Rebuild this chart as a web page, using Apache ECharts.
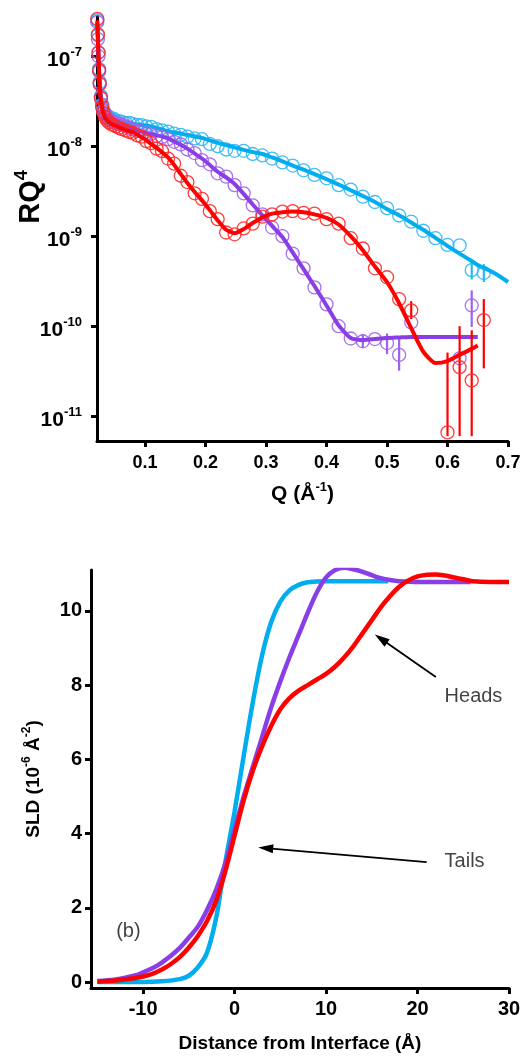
<!DOCTYPE html>
<html><head><meta charset="utf-8">
<script src="https://cdn.jsdelivr.net/npm/echarts@6/dist/echarts.min.js"></script>
<style>html,body{margin:0;padding:0;background:#fff}#c{width:523px;height:1058px}</style>
</head><body><div id="c"></div>
<script>
// ---------- Panel (a): reflectivity RQ^4 vs Q ----------
const qData = [0.021,0.022,0.023,0.024,0.025,0.027,0.029,0.031,0.034,0.037,0.040,0.044,0.048,0.052,0.057,0.062,0.068,0.074,0.080,0.087,0.094,0.102,0.110,0.119,0.128,0.138,0.148,0.159,0.170,0.182,0.194,0.207,0.220,0.234,0.248,0.263,0.278,0.294,0.310,0.327,0.344,0.362,0.380,0.400,0.420,0.440,0.460,0.480,0.500,0.520,0.540,0.560,0.580,0.600,0.620,0.640,0.660];
const blueData = [2.5e-7,1.7e-7,1.1e-7,7.2e-8,5.2e-8,3.6e-8,2.9e-8,2.5e-8,2.3e-8,2.2e-8,2.12e-8,2.0e-8,2.02e-8,1.93e-8,1.9e-8,1.86e-8,1.8e-8,1.82e-8,1.76e-8,1.73e-8,1.72e-8,1.66e-8,1.64e-8,1.55e-8,1.5e-8,1.45e-8,1.38e-8,1.34e-8,1.28e-8,1.22e-8,1.2e-8,1.06e-8,1.0e-8,9.2e-9,8.9e-9,8.9e-9,8.2e-9,7.9e-9,7.3e-9,6.6e-9,6.1e-9,5.4e-9,4.8e-9,4.4e-9,3.7e-9,3.3e-9,2.75e-9,2.4e-9,2.05e-9,1.7e-9,1.45e-9,1.15e-9,9.5e-10,8.0e-10,7.9e-10,4.2e-10,3.9e-10];
const purpleData = [2.4e-7,1.55e-7,1.0e-7,6.8e-8,5.0e-8,3.5e-8,2.85e-8,2.45e-8,2.25e-8,2.1e-8,2.0e-8,1.93e-8,1.85e-8,1.84e-8,1.76e-8,1.73e-8,1.66e-8,1.62e-8,1.55e-8,1.48e-8,1.46e-8,1.38e-8,1.37e-8,1.3e-8,1.26e-8,1.2e-8,1.12e-8,1.05e-8,9.2e-9,8.4e-9,7.0e-9,6.3e-9,5.0e-9,4.6e-9,3.7e-9,3.0e-9,2.2e-9,1.75e-9,1.25e-9,1.0e-9,6.4e-10,4.4e-10,2.7e-10,1.75e-10,1.0e-10,7.3e-11,6.8e-11,7.2e-11,6.5e-11,4.8e-11,1.1e-10,null,null,null,4.4e-11,1.7e-10,null];
const redData = [2.6e-7,1.75e-7,1.1e-7,7.0e-8,4.9e-8,3.4e-8,2.7e-8,2.35e-8,2.1e-8,1.95e-8,1.85e-8,1.76e-8,1.72e-8,1.66e-8,1.6e-8,1.55e-8,1.5e-8,1.44e-8,1.41e-8,1.32e-8,1.28e-8,1.14e-8,1.08e-8,9.4e-9,8.8e-9,7.3e-9,6.4e-9,4.7e-9,4.0e-9,3.0e-9,2.6e-9,1.9e-9,1.55e-9,1.1e-9,1.05e-9,1.22e-9,1.38e-9,1.65e-9,1.75e-9,1.88e-9,1.9e-9,1.82e-9,1.78e-9,1.55e-9,1.38e-9,9.5e-10,7.3e-10,4.4e-10,3.5e-10,2.0e-10,1.5e-10,null,null,6.6e-12,3.5e-11,2.5e-11,1.17e-10];

const qFit = [0.021,0.022,0.023,0.024,0.025,0.027,0.029,0.031,0.034,0.037,0.040,0.044,0.048,0.052,0.057,0.062,0.068,0.074,0.080,0.087,0.094,0.102,0.110,0.119,0.128,0.138,0.148,0.159,0.170,0.182,0.194,0.207,0.220,0.234,0.248,0.263,0.278,0.294,0.310,0.327,0.344,0.362,0.380,0.400,0.420,0.440,0.460,0.480,0.500,0.520,0.540,0.560,0.580,0.600,0.620,0.640,0.650,0.680,0.700];
const blueFit = [2.4e-7,1.6e-7,1.0e-7,6.8e-8,5.0e-8,3.5e-8,2.9e-8,2.55e-8,2.3e-8,2.2e-8,2.1e-8,2.05e-8,2.0e-8,1.95e-8,1.9e-8,1.87e-8,1.84e-8,1.8e-8,1.78e-8,1.75e-8,1.72e-8,1.7e-8,1.66e-8,1.6e-8,1.54e-8,1.47e-8,1.42e-8,1.38e-8,1.33e-8,1.28e-8,1.24e-8,1.16e-8,1.09e-8,1.03e-8,9.7e-9,9.1e-9,8.6e-9,8.2e-9,7.5e-9,6.8e-9,6.1e-9,5.5e-9,4.9e-9,4.3e-9,3.75e-9,3.24e-9,2.8e-9,2.4e-9,2.0e-9,1.71e-9,1.42e-9,1.18e-9,9.6e-10,7.8e-10,6.4e-10,5.3e-10,4.8e-10,3.8e-10,3.1e-10];
const purpleFit = [2.3e-7,1.5e-7,9.5e-8,6.5e-8,4.8e-8,3.4e-8,2.8e-8,2.45e-8,2.2e-8,2.1e-8,2.0e-8,1.95e-8,1.9e-8,1.85e-8,1.8e-8,1.74e-8,1.68e-8,1.62e-8,1.56e-8,1.5e-8,1.45e-8,1.4e-8,1.36e-8,1.32e-8,1.28e-8,1.22e-8,1.13e-8,1.04e-8,9.4e-9,8.3e-9,7.3e-9,6.2e-9,5.2e-9,4.5e-9,3.8e-9,2.95e-9,2.25e-9,1.7e-9,1.3e-9,9.8e-10,6.6e-10,4.3e-10,2.8e-10,1.7e-10,1.02e-10,7.4e-11,7.0e-11,7.2e-11,7.4e-11,7.5e-11,7.6e-11,7.6e-11,7.6e-11,7.6e-11,7.6e-11,7.6e-11,7.6e-11,null,null];
const redFit = [2.5e-7,1.6e-7,1.0e-7,6.5e-8,4.6e-8,3.2e-8,2.6e-8,2.3e-8,2.05e-8,1.95e-8,1.85e-8,1.78e-8,1.72e-8,1.68e-8,1.62e-8,1.57e-8,1.52e-8,1.47e-8,1.43e-8,1.35e-8,1.26e-8,1.16e-8,1.06e-8,9.6e-9,8.6e-9,7.5e-9,6.2e-9,4.9e-9,3.9e-9,3.1e-9,2.5e-9,1.95e-9,1.5e-9,1.18e-9,1.08e-9,1.2e-9,1.4e-9,1.62e-9,1.78e-9,1.85e-9,1.88e-9,1.85e-9,1.75e-9,1.6e-9,1.35e-9,1.0e-9,7.0e-10,4.6e-10,3.1e-10,1.8e-10,9.5e-11,5.2e-11,3.9e-11,4.1e-11,4.8e-11,5.6e-11,6.1e-11,null,null];

const blueErrQ = [0.64,0.66], blueErrLo = [3.3e-10,3.1e-10], blueErrHi = [5.3e-10,4.9e-10];
const purpleErrQ = [0.46,0.50,0.52,0.64], purpleErrLo = [5.8e-11,4.9e-11,3.2e-11,9.8e-11], purpleErrHi = [8.2e-11,8.3e-11,7.2e-11,2.5e-10];
const redErrQ = [0.54,0.60,0.62,0.64,0.66], redErrLo = [1.2e-10,6e-12,6e-12,6e-12,3.4e-11], redErrHi = [1.9e-10,5.1e-11,1.0e-10,9e-11,2.0e-10];

const qTicks = [0.1,0.2,0.3,0.4,0.5,0.6,0.7];
const rTicks = [1e-11,1e-10,1e-9,1e-8,1e-7];

// ---------- Panel (b): SLD profiles ----------
const zBlue = [-15,-12,-10,-8,-6,-5,-4,-3,-2,-1.5,-1,0,1,2,3,4,5,6,7,8,10,14,16.8];
const sldBlue = [0,0,0,0.02,0.08,0.17,0.4,0.8,1.75,2.5,3.25,4.6,6.1,7.55,8.8,9.7,10.25,10.55,10.7,10.77,10.8,10.8,10.8];
const zPurple = [-15,-13,-11,-10,-9,-8,-7,-6,-5,-4,-3,-2,-1,0,1,2,3,4,5,6,7,8,9,10,11,12,13,14,15,16,17,18,20,25.8];
const sldPurple = [0.03,0.07,0.17,0.26,0.37,0.52,0.7,0.92,1.2,1.5,1.95,2.5,3.2,4.1,5.0,5.8,6.6,7.4,8.1,8.75,9.35,9.95,10.5,10.9,11.1,11.16,11.12,11.05,10.96,10.88,10.83,10.8,10.78,10.78];
const zRed = [-15,-13,-11,-10,-9,-8,-7,-6,-5,-4,-3,-2,-1,0,1,2,3,4,5,6,7,8,9,10,11,12,13,14,15,16,17,18,19,20,21,22,23,24,25,26,28,30];
const sldRed = [0.01,0.04,0.1,0.15,0.22,0.33,0.48,0.67,0.93,1.25,1.65,2.2,3.0,3.95,4.9,5.7,6.35,6.9,7.35,7.65,7.85,8.0,8.15,8.3,8.5,8.75,9.05,9.4,9.75,10.1,10.4,10.65,10.82,10.93,10.97,10.98,10.95,10.9,10.85,10.8,10.78,10.78];
const zTicks = [-10,0,10,20,30];
const sldTicks = [0,2,4,6,8,10];

const annotTexts = ['Heads','Tails','(b)'];
const annotPos = [[22.9,7.68],[22.9,3.26],[-13.0,1.35]];
const arrows = [[[22.0,8.22],[16.0,9.25]],[[21.0,3.23],[3.4,3.61]]];

// ---------- build ----------
const F = '"Liberation Sans", Arial, sans-serif';
const C_BLUE = '#00AEEF', C_BLUE_PT = '#2DB6F5';
const C_PURPLE = '#8A3FE6', C_PURPLE_PT = '#9E63EE';
const C_RED = '#FF0000', C_RED_PT = '#FF2A2A';

function pairs(xs, ys){ const out=[]; for(let i=0;i<xs.length;i++){ if(ys[i]!=null) out.push([xs[i],ys[i]]); } return out; }

function fitSeries(ys, color, idx){
  return {type:'line', xAxisIndex:0, yAxisIndex:0, data:pairs(qFit, ys), showSymbol:false, smooth:0.2,
    lineStyle:{color:color,width:4}, itemStyle:{color:color}, silent:true, z:3+idx, animation:false};
}
function dataSeries(ys, color, idx){
  return {type:'scatter', xAxisIndex:0, yAxisIndex:0, data:pairs(qData, ys), symbol:'circle', symbolSize:13,
    itemStyle:{color:'rgba(255,255,255,0)', borderColor:color, borderWidth:1.3, opacity:0.9}, silent:true, clip:false, z:3+idx, animation:false};
}
function errSeries(q, lo, hi, color, idx){
  return {type:'custom', xAxisIndex:0, yAxisIndex:0, data:q.map((v,i)=>[v,lo[i],hi[i]]), silent:true, z:3+idx, animation:false,
    renderItem:function(p, api){
      const a = api.coord([api.value(0), api.value(1)]);
      const b = api.coord([api.value(0), api.value(2)]);
      return {type:'line', shape:{x1:a[0],y1:a[1],x2:b[0],y2:b[1]}, style:{stroke:color, lineWidth:2.2}};
    }};
}
function sldSeries(zs, ys, color, idx){
  return {type:'line', xAxisIndex:1, yAxisIndex:1, data:pairs(zs, ys), showSymbol:false, smooth:0.35,
    lineStyle:{color:color,width:4.5}, silent:true, z:3+idx, animation:false};
}

const axisLineStyle = {show:true, onZero:false, lineStyle:{color:'#000', width:3}};
const tickStyle = {show:true, length:6, lineStyle:{color:'#000', width:3}};

const option = {
  backgroundColor:'#fff',
  animation:false,
  grid:[
    {left:97, right:15, top:16, bottom:617, outerBoundsMode:'none', containLabel:false},
    {left:91, right:14, top:570, bottom:70, outerBoundsMode:'none', containLabel:false}
  ],
  xAxis:[
    {type:'value', gridIndex:0, min:0.0205, max:0.7, axisLine:axisLineStyle,
     axisTick:Object.assign({customValues:qTicks}, tickStyle),
     splitLine:{show:false},
     axisLabel:{customValues:qTicks, formatter:v=>v.toFixed(1), margin:13, color:'#000', fontFamily:F, fontWeight:'bold', fontSize:18},
     name:'{a|Q (Å}{b|-1}{a|)}', nameLocation:'middle', nameGap:40,
     nameTextStyle:{rich:{a:{fontFamily:F,fontWeight:'bold',fontSize:21,color:'#000'},b:{fontFamily:F,fontWeight:'bold',fontSize:13,color:'#000',padding:[0,0,14,0]}}}},
    {type:'value', gridIndex:1, min:-15.7, max:30, axisLine:axisLineStyle,
     axisTick:Object.assign({customValues:zTicks}, tickStyle),
     splitLine:{show:false},
     axisLabel:{customValues:zTicks, margin:11, color:'#000', fontFamily:F, fontWeight:'bold', fontSize:20},
     name:'Distance from Interface (Å)', nameLocation:'middle', nameGap:46,
     nameTextStyle:{fontFamily:F,fontWeight:'bold',fontSize:19,color:'#000'}}
  ],
  yAxis:[
    {type:'log', gridIndex:0, logBase:10, min:5.3e-12, max:2.8e-7, axisLine:axisLineStyle,
     axisTick:Object.assign({customValues:rTicks}, tickStyle),
     splitLine:{show:false}, minorTick:{show:false},
     axisLabel:{customValues:rTicks, margin:15, formatter:v=>'{a|10}{b|'+Math.round(Math.log10(v))+'}',
       rich:{a:{fontFamily:F,fontWeight:'bold',fontSize:21,color:'#000',padding:[8,0,0,0]},b:{fontFamily:F,fontWeight:'bold',fontSize:13,color:'#000',padding:[0,0,7,0]}}}},
    {type:'value', gridIndex:1, min:-0.16, max:11.1, axisLine:axisLineStyle,
     axisTick:Object.assign({customValues:sldTicks}, tickStyle),
     splitLine:{show:false},
     axisLabel:{customValues:sldTicks, margin:9, color:'#000', fontFamily:F, fontWeight:'bold', fontSize:20},
     name:'{a|SLD (10}{b|-6}{a| Å}{b|-2}{a|)}', nameLocation:'middle', nameGap:45, nameRotate:90,
     nameTextStyle:{rich:{a:{fontFamily:F,fontWeight:'bold',fontSize:19,color:'#000'},b:{fontFamily:F,fontWeight:'bold',fontSize:12,color:'#000',padding:[0,0,13,0]}}}}
  ],
  graphic:[
    {type:'text', x:31, y:197, rotation:Math.PI/2, silent:true,
     style:{text:'{a|RQ}{b|4}', align:'center', verticalAlign:'middle',
       rich:{a:{fontFamily:F,fontWeight:'bold',fontSize:29,fill:'#000'},b:{fontFamily:F,fontWeight:'bold',fontSize:18,fill:'#000',padding:[0,0,18,0]}}}}
  ],
  series:[
    dataSeries(blueData, C_BLUE_PT, 0),
    errSeries(blueErrQ, blueErrLo, blueErrHi, C_BLUE_PT, 0),
    fitSeries(blueFit, C_BLUE, 1),
    dataSeries(purpleData, C_PURPLE_PT, 2),
    errSeries(purpleErrQ, purpleErrLo, purpleErrHi, C_PURPLE_PT, 2),
    fitSeries(purpleFit, C_PURPLE, 3),
    dataSeries(redData, C_RED_PT, 4),
    errSeries(redErrQ, redErrLo, redErrHi, C_RED, 4),
    fitSeries(redFit, C_RED, 5),
    sldSeries(zBlue, sldBlue, C_BLUE, 0),
    sldSeries(zPurple, sldPurple, C_PURPLE, 1),
    sldSeries(zRed, sldRed, C_RED, 2),
    {type:'scatter', xAxisIndex:1, yAxisIndex:1, symbolSize:1, silent:true, z:10, animation:false,
     itemStyle:{color:'rgba(0,0,0,0)'},
     data:annotTexts.map((t,i)=>({name:t, value:annotPos[i]})),
     label:{show:true, position:'right', distance:0, formatter:'{b}', color:'#111', fontFamily:F, fontSize:20},
     markLine:{silent:true, symbol:['none','triangle'], symbolSize:[9,15], animation:false,
       label:{show:false}, lineStyle:{color:'#000', width:1.8, type:'solid'},
       data:arrows.map(a=>[{coord:a[0]},{coord:a[1]}])}}
  ]
};
const chart = echarts.init(document.getElementById('c'), null, {renderer:'canvas'});
chart.setOption(option);
</script></body></html>
